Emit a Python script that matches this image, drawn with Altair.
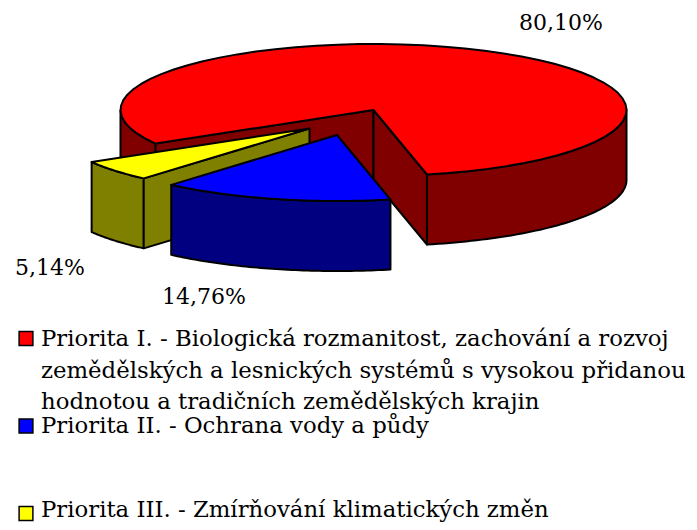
import numpy as np
import altair as alt

# Values
shares = [80.10, 14.76, 5.14]
share_labels = ["80,10%", "14,76%", "5,14%"]
legend_names = [
    "Priorita I. - Biologická rozmanitost, zachování a rozvoj",
    "zemědělských a lesnických systémů s vysokou přidanou",
    "hodnotou a tradičních zemědělských krajin",
    "Priorita II. - Ochrana vody a půdy",
    "Priorita III. - Zmírňování klimatických změn",
]

# Layout and style (reference pixels)
M = 8
CX, CY, A, B, DEPTH = 373.5, 110.0, 253.0, 66.0, 70.0
START = 282.2
OFF_BLUE = (-36.5, 25.0)
OFF_YEL = (-64.0, 18.5)
FONT = "DejaVu Serif"
INK = "#000000"


def rim(t0, t1, off=(0, 0), dy=0.0, n=60):
    t = np.radians(np.linspace(t0, t1, n))
    xs = CX + off[0] + A * np.cos(t)
    ys = CY + off[1] + dy - B * np.sin(t)
    return list(zip(xs.tolist(), ys.tolist()))


def poly(points, fill):
    pts = [list(p) for p in points]
    pts.append(pts[0])
    feature = {"type": "Feature", "properties": {},
               "geometry": {"type": "Polygon", "coordinates": [pts]}}
    return alt.Chart(alt.Data(values=[feature])).mark_geoshape(
        fill=fill, stroke=INK, strokeWidth=2, strokeJoin="round"
    ).project(type="identity", scale=1, translate=[-M, -M])


def wall(t0, t1, off, fill):
    return poly(rim(t0, t1, off) + rim(t1, t0, off, DEPTH), fill)


def face(t, off, fill):
    ax, ay = CX + off[0], CY + off[1]
    e = rim(t, t, off, 0, 2)[0]
    return poly([(ax, ay), e, (e[0], e[1] + DEPTH), (ax, ay + DEPTH)], fill)


def top(t0, t1, off, fill):
    return poly([(CX + off[0], CY + off[1])] + rim(t0, t1, off), fill)


sweep = [s * 3.6 for s in shares]
red0 = START
red1 = START + sweep[0]          # goes over the back of the pie
yel0 = red1 - 360
yel1 = yel0 + sweep[2]
blu0 = yel1
blu1 = blu0 + sweep[1]

layers = [
    wall(180, yel0, (0, 0), "#800000"),
    face(yel0, (0, 0), "#800000"),
    face(red0, (0, 0), "#800000"),
    wall(red0, 360, (0, 0), "#800000"),
    top(red0, red1, (0, 0), "#ff0000"),
    wall(yel0, yel1, OFF_YEL, "#808000"),
    face(yel1, OFF_YEL, "#808000"),
    top(yel0, yel1, OFF_YEL, "#ffff00"),
    wall(blu0, blu1, OFF_BLUE, "#000080"),
    top(blu0, blu1, OFF_BLUE, "#0000ff"),
]


def text_layer(rows, size):
    return alt.Chart(alt.Data(values=rows)).mark_text(
        font=FONT, fontSize=size, align="left", baseline="alphabetic", color="#000000"
    ).encode(x=alt.X("x:Q", scale=None), y=alt.Y("y:Q", scale=None), text="t:N")


# Text
label_px = [(519, 30), (162, 304), (15, 275)]
line_y = [346, 378, 409, 433, 517]
pct = text_layer([{"t": t, "x": x - M, "y": y - M}
                  for t, (x, y) in zip(share_labels, label_px)], 22)
leg = text_layer([{"t": t, "x": 41 - M, "y": y - M}
                  for t, y in zip(legend_names, line_y)], 22.8)

# Legend keys
key_rows = [{"x": 26 - M, "y": y - M, "c": c} for y, c in
            zip([338.5, 426, 513.5], ["#ff0000", "#0000ff", "#ffff00"])]
keys = alt.Chart(alt.Data(values=key_rows)).mark_square(
    size=190, stroke="#000000", strokeWidth=1.5, opacity=1, fillOpacity=1
).encode(x=alt.X("x:Q", scale=None), y=alt.Y("y:Q", scale=None),
         fill=alt.Fill("c:N", scale=None))

chart = alt.layer(*layers, pct, leg, keys).properties(
    width=681, height=514, padding=0, autosize=alt.AutoSizeParams(type="none")
).configure_view(stroke=None)

chart.save("out.html", embed_options={"renderer": "svg", "actions": False})
